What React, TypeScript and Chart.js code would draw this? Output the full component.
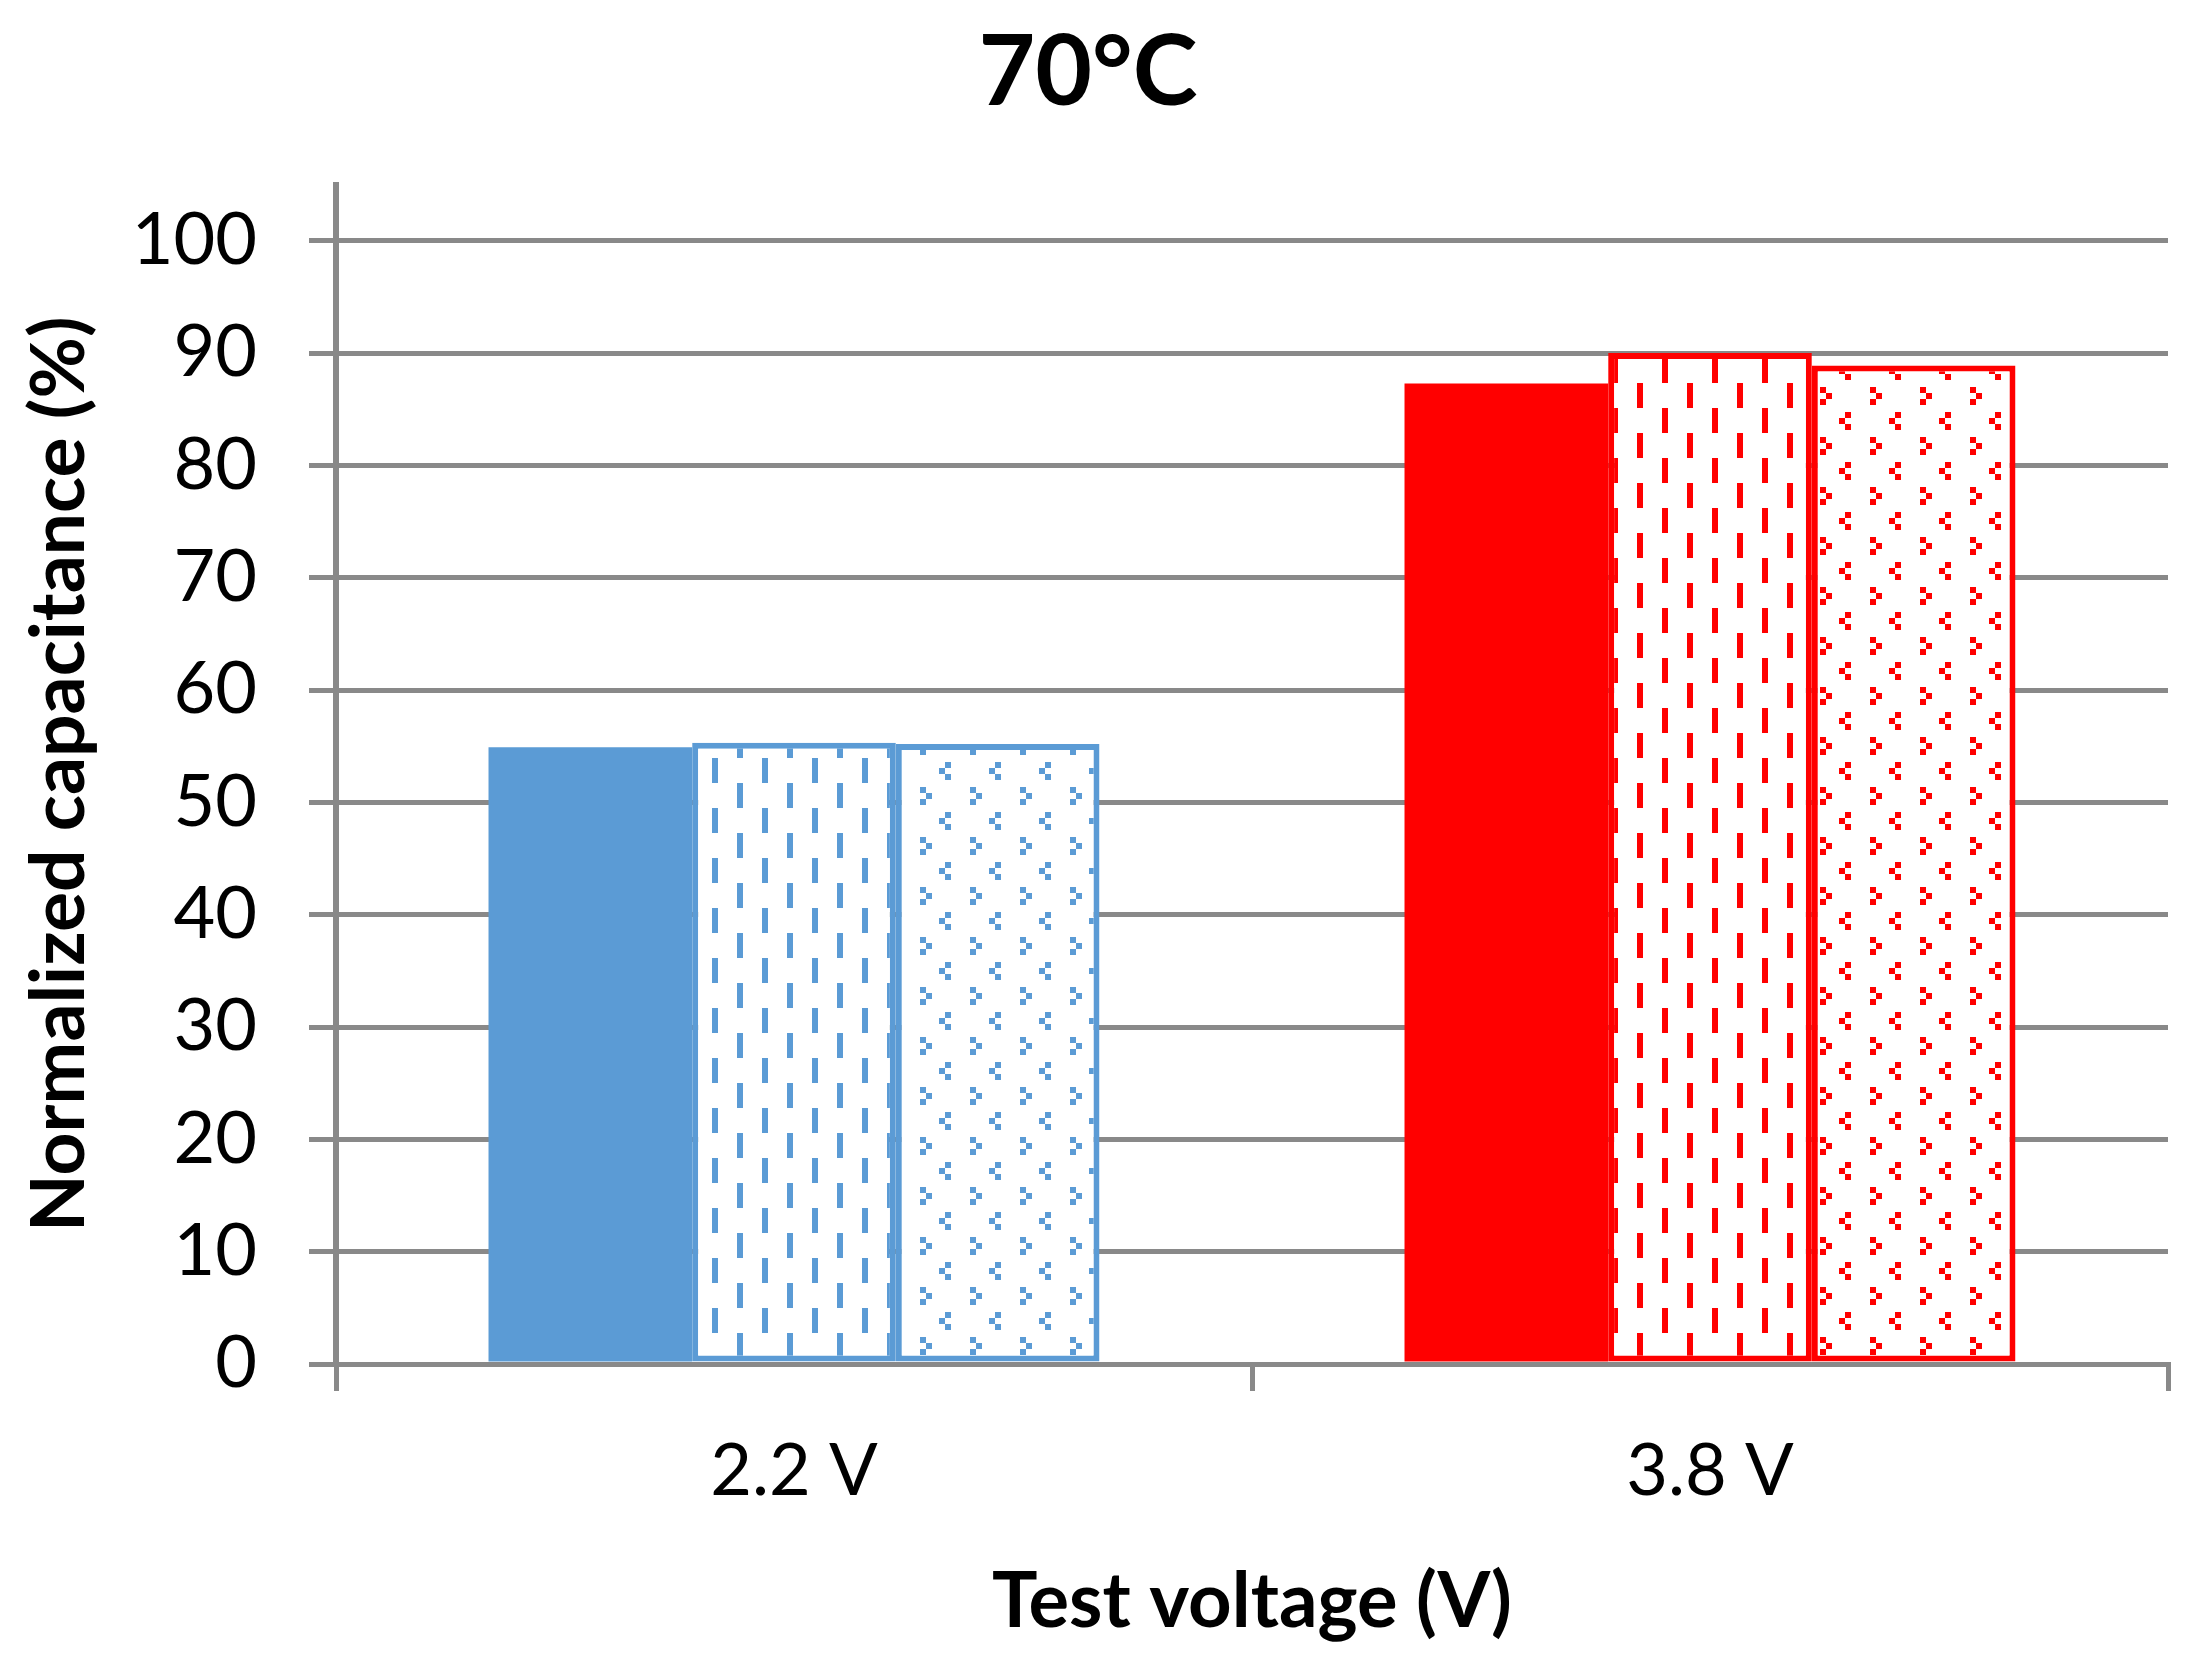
import { useEffect, useRef } from "react";
import { Chart, registerables, type ChartOptions } from "chart.js";

Chart.register(...registerables);

const categories = ["2.2 V", "3.8 V"];
const solidValues = [54.9, 87.3];
const dashedValues = [55.3, 90.0];
const dottedValues = [55.2, 88.9];
const yTicks = [0, 10, 20, 30, 40, 50, 60, 70, 80, 90, 100];

const BLUE = "#5B9BD5";
const RED = "#FF0000";
const GRID = "#898989";

function dashPattern(color: string): CanvasPattern | string {
  const tile = document.createElement("canvas");
  tile.width = 50;
  tile.height = 50;
  const c = tile.getContext("2d");
  if (!c) return color;
  c.fillStyle = "#ffffff";
  c.fillRect(0, 0, 50, 50);
  c.fillStyle = color;
  c.fillRect(4, 0, 6, 25);
  c.fillRect(29, 25, 6, 25);
  return c.createPattern(tile, "repeat") ?? color;
}

function chevronPattern(color: string): CanvasPattern | string {
  const tile = document.createElement("canvas");
  tile.width = 50;
  tile.height = 50;
  const c = tile.getContext("2d");
  if (!c) return color;
  c.fillStyle = "#ffffff";
  c.fillRect(0, 0, 50, 50);
  c.fillStyle = color;
  // "<"
  c.fillRect(37, 4, 6, 6);
  c.fillRect(31, 10, 6, 6);
  c.fillRect(37, 16, 6, 6);
  // ">"
  c.fillRect(12, 29, 6, 6);
  c.fillRect(18, 35, 6, 6);
  c.fillRect(12, 41, 6, 6);
  return c.createPattern(tile, "repeat") ?? color;
}

export default function App() {
  const canvasRef = useRef<HTMLCanvasElement | null>(null);
  const chartRef = useRef<Chart | null>(null);

  useEffect(() => {
    if (!canvasRef.current) return;
    if (chartRef.current) chartRef.current.destroy();

    Chart.defaults.font.family = "Lato";
    Chart.defaults.color = "#000";

    const options: ChartOptions<"bar"> = {
      responsive: true,
      maintainAspectRatio: false,
      animation: false,
      layout: { padding: { left: 0, right: 10, top: 0, bottom: 0 } },
      scales: {
        x: {
          offset: true,
          grid: {
            display: true,
            drawOnChartArea: false,
            drawTicks: true,
            tickLength: 27,
            color: GRID,
            lineWidth: 5,
            offset: true
          },
          border: { display: true, color: GRID, width: 5 },
          ticks: { font: { size: 72 }, color: "#000", padding: 38 },
          title: {
            display: true,
            text: "Test voltage (V)",
            font: { size: 76, weight: "bold" },
            color: "#000",
            padding: { top: 0, bottom: 10 }
          },
          afterFit: (scale) => {
            scale.height = 294;
          }
        },
        y: {
          min: 0,
          max: 105,
          grid: { color: GRID, lineWidth: 5, tickLength: 27, drawTicks: true },
          border: { display: true, color: GRID, width: 6 },
          ticks: { stepSize: 10, font: { size: 72 }, color: "#000", padding: 52 },
          afterBuildTicks: (scale) => {
            scale.ticks = yTicks.map((v) => ({ value: v }));
          },
          title: {
            display: true,
            text: "Normalized capacitance (%)",
            font: { size: 75, weight: "bold" },
            color: "#000",
            padding: { top: 7, bottom: 0 }
          },
          afterFit: (scale) => {
            scale.width = 328;
          }
        }
      },
      plugins: {
        legend: { display: false },
        tooltip: { enabled: false },
        title: {
          display: true,
          text: "70°C",
          font: { size: 98, weight: "bold" },
          color: "#000",
          padding: { top: 7, bottom: 52 }
        }
      }
    };

    const common = { categoryPercentage: 0.667, barPercentage: 1.0, borderSkipped: false as const };

    chartRef.current = new Chart(canvasRef.current, {
      type: "bar",
      data: {
        labels: categories,
        datasets: [
          {
            label: "Solid",
            data: solidValues,
            backgroundColor: [BLUE, RED],
            borderWidth: 0,
            ...common
          },
          {
            label: "Dashed",
            data: dashedValues,
            backgroundColor: [dashPattern(BLUE), dashPattern(RED)],
            borderColor: [BLUE, RED],
            borderWidth: 6,
            ...common
          },
          {
            label: "Dotted",
            data: dottedValues,
            backgroundColor: [chevronPattern(BLUE), chevronPattern(RED)],
            borderColor: [BLUE, RED],
            borderWidth: 6,
            ...common
          }
        ]
      },
      options
    });

    return () => chartRef.current?.destroy();
  }, []);

  return (
    <div style={{ position: "relative", width: 2170, height: 1650 }}>
      <canvas ref={canvasRef} />
    </div>
  );
}
